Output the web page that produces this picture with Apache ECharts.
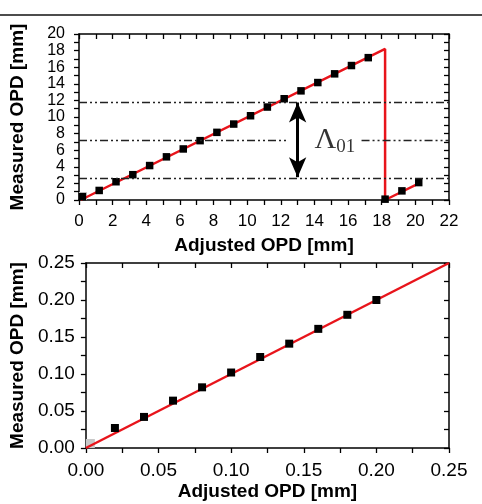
<!DOCTYPE html>
<html>
<head>
<meta charset="utf-8">
<script src="https://cdn.jsdelivr.net/npm/echarts@6/dist/echarts.min.js"></script>
<style>
  html, body { margin: 0; padding: 0; background: #fff; }
  #chart { width: 482px; height: 504px; }
</style>
</head>
<body>
<div id="chart"></div>
<script>
// top panel: full range, wraps at one period
const topAdjusted = [0.2, 1.2, 2.2, 3.2, 4.2, 5.2, 6.2, 7.2, 8.2, 9.2, 10.2, 11.2, 12.2, 13.2, 14.2, 15.2, 16.2, 17.2, 18.2, 19.2, 20.2]
const topMeasured = [0.4, 1.15, 2.2, 3.05, 4.15, 5.2, 6.15, 7.15, 8.15, 9.15, 10.15, 11.2, 12.2, 13.15, 14.15, 15.2, 16.2, 17.15, 0.1, 1.1, 2.1]
const topFitX = [0.1, 18.2, 18.2, 20.3]
const topFitY = [0, 18.2, 0, 2.1]
const levelLines = [11.8, 7.2, 2.65]
const arrowX = 13
const arrowEnds = [11.75, 2.75]

// bottom panel: small range
const lowAdjusted = [0.02, 0.04, 0.06, 0.08, 0.10, 0.12, 0.14, 0.16, 0.18, 0.20]
const lowMeasured = [0.027, 0.042, 0.064, 0.082, 0.102, 0.123, 0.141, 0.161, 0.180, 0.200]
const lowFitX = [0, 0.25]
const lowFitY = [0, 0.25]

const font = 'Liberation Sans, Arial, sans-serif'
const black = '#000'
const red = '#e8141b'

const pairs = (xs, ys) => xs.map((x, i) => [x, ys[i]])

function axisBase(min, max, interval, fontSize, margin, fmt) {
  return {
    type: 'value', min, max, interval,
    splitLine: { show: false },
    axisLine: { show: true, onZero: false, lineStyle: { color: black, width: 1.5 } },
    axisTick: { show: true, inside: false, length: 5, lineStyle: { color: black, width: 1.3 } },
    minorTick: { show: true, splitNumber: 2, length: 5, lineStyle: { color: black, width: 1.3 } },
    axisLabel: {
      color: black, fontSize, fontFamily: font, margin, formatter: fmt, interval: 0,
      showMinLabel: true, showMaxLabel: true, hideOverlap: false,
    },
  }
}
function mirror(base) {
  return Object.assign({}, base, {
    axisLabel: { show: false },
    axisTick: Object.assign({}, base.axisTick, { inside: true }),
    minorTick: Object.assign({}, base.minorTick, { inside: true }),
  })
}
const nameStyle = { color: black, fontSize: 19, fontWeight: 'bold', fontFamily: font }

const xTop = axisBase(0, 22, 2, 17, 13, v => String(v))
const yTop = axisBase(0, 20, 2, 16, 14, v => String(v))
const xLow = axisBase(0, 0.25, 0.05, 19, 13, v => v.toFixed(2))
const yLow = axisBase(0, 0.25, 0.05, 19, 11, v => v.toFixed(2))

const dashType = [8, 3, 2, 3, 2, 3]
const markStyle = { color: black, opacity: 1 }

const option = {
  animation: false,
  backgroundColor: '#fff',
  graphic: [{
    type: 'line',
    shape: { x1: 0, y1: 15, x2: 482, y2: 15 },
    style: { stroke: '#111', lineWidth: 1.4 },
  }],
  grid: [
    { left: 77, right: 33, top: 34, height: 166 },
    { left: 77, right: 33, top: 263, height: 185 },
  ],
  xAxis: [
    Object.assign({}, xTop, { gridIndex: 0, position: 'bottom',
      name: 'Adjusted OPD [mm]', nameLocation: 'middle', nameGap: 36, nameTextStyle: nameStyle }),
    Object.assign(mirror(xTop), { gridIndex: 0, position: 'top' }),
    Object.assign({}, xLow, { gridIndex: 1, position: 'bottom',
      name: 'Adjusted OPD [mm]', nameLocation: 'middle', nameGap: 34, nameTextStyle: nameStyle }),
    Object.assign(mirror(xLow), { gridIndex: 1, position: 'top' }),
  ],
  yAxis: [
    Object.assign({}, yTop, { gridIndex: 0, position: 'left',
      name: 'Measured OPD [mm]', nameLocation: 'middle', nameGap: 52, nameTextStyle: nameStyle }),
    Object.assign(mirror(yTop), { gridIndex: 0, position: 'right' }),
    Object.assign({}, yLow, { gridIndex: 1, position: 'left',
      name: 'Measured OPD [mm]', nameLocation: 'middle', nameGap: 52, nameTextStyle: nameStyle }),
    Object.assign(mirror(yLow), { gridIndex: 1, position: 'right' }),
  ],
  series: [
    // ---- top panel ----
    {
      type: 'line', xAxisIndex: 0, yAxisIndex: 0,
      data: pairs(topFitX, topFitY),
      showSymbol: false, symbol: 'none',
      lineStyle: { color: red, width: 2.5 }, z: 2,
      markLine: {
        silent: true, symbol: 'none', label: { show: false },
        lineStyle: { color: '#222', width: 1.3, type: dashType },
        data: [
          [{ coord: [0, levelLines[0]] }, { coord: [22, levelLines[0]] }],
          [{ coord: [0, levelLines[1]] }, { coord: [12.4, levelLines[1]] }],
          [{ coord: [16.8, levelLines[1]] }, { coord: [22, levelLines[1]] }],
          [{ coord: [0, levelLines[2]] }, { coord: [22, levelLines[2]] }],
        ],
      },
    },
    {
      type: 'scatter', xAxisIndex: 0, yAxisIndex: 0,
      data: pairs(topAdjusted, topMeasured),
      symbol: 'rect', symbolSize: 7.5,
      itemStyle: markStyle, z: 3,
    },
    {
      type: 'scatter', xAxisIndex: 0, yAxisIndex: 0,
      data: [[0, 0]], symbol: 'rect', symbolSize: 8, symbolOffset: [4, -4],
      itemStyle: { color: '#c8c8c8', opacity: 1 }, z: 1,
    },
    {
      type: 'line', xAxisIndex: 0, yAxisIndex: 0, data: [], z: 4,
      markLine: {
        silent: true, symbol: ['arrow', 'arrow'], symbolSize: [13, 20], label: { show: false },
        lineStyle: { color: black, width: 3, type: 'solid' },
        data: [[{ coord: [arrowX, arrowEnds[0]] }, { coord: [arrowX, arrowEnds[1]] }]],
      },
    },
    {
      type: 'scatter', xAxisIndex: 0, yAxisIndex: 0,
      data: [[14, levelLines[1]]], symbolSize: 0, z: 5,
      label: {
        show: true, position: 'right', distance: 0,
        formatter: '{a|Λ}{b|01}',
        rich: {
          a: { fontFamily: 'Liberation Serif, Times New Roman, serif', fontSize: 30, color: black },
          b: { fontFamily: 'Liberation Serif, Times New Roman, serif', fontSize: 19, color: black, padding: [14, 0, 0, 0] },
        },
      },
    },
    // ---- bottom panel ----
    {
      type: 'line', xAxisIndex: 2, yAxisIndex: 2,
      data: pairs(lowFitX, lowFitY),
      showSymbol: false, symbol: 'none',
      lineStyle: { color: red, width: 2.5 }, z: 2,
    },
    {
      type: 'scatter', xAxisIndex: 2, yAxisIndex: 2,
      data: pairs(lowAdjusted, lowMeasured),
      symbol: 'rect', symbolSize: 8,
      itemStyle: markStyle, z: 3,
    },
    {
      type: 'scatter', xAxisIndex: 2, yAxisIndex: 2,
      data: [[0, 0]], symbol: 'rect', symbolSize: 9, symbolOffset: [4.5, -4.5],
      itemStyle: { color: '#c8c8c8', opacity: 1 }, z: 1,
    },
  ],
}

const chart = echarts.init(document.getElementById('chart'))
chart.setOption(option)
</script>
</body>
</html>
